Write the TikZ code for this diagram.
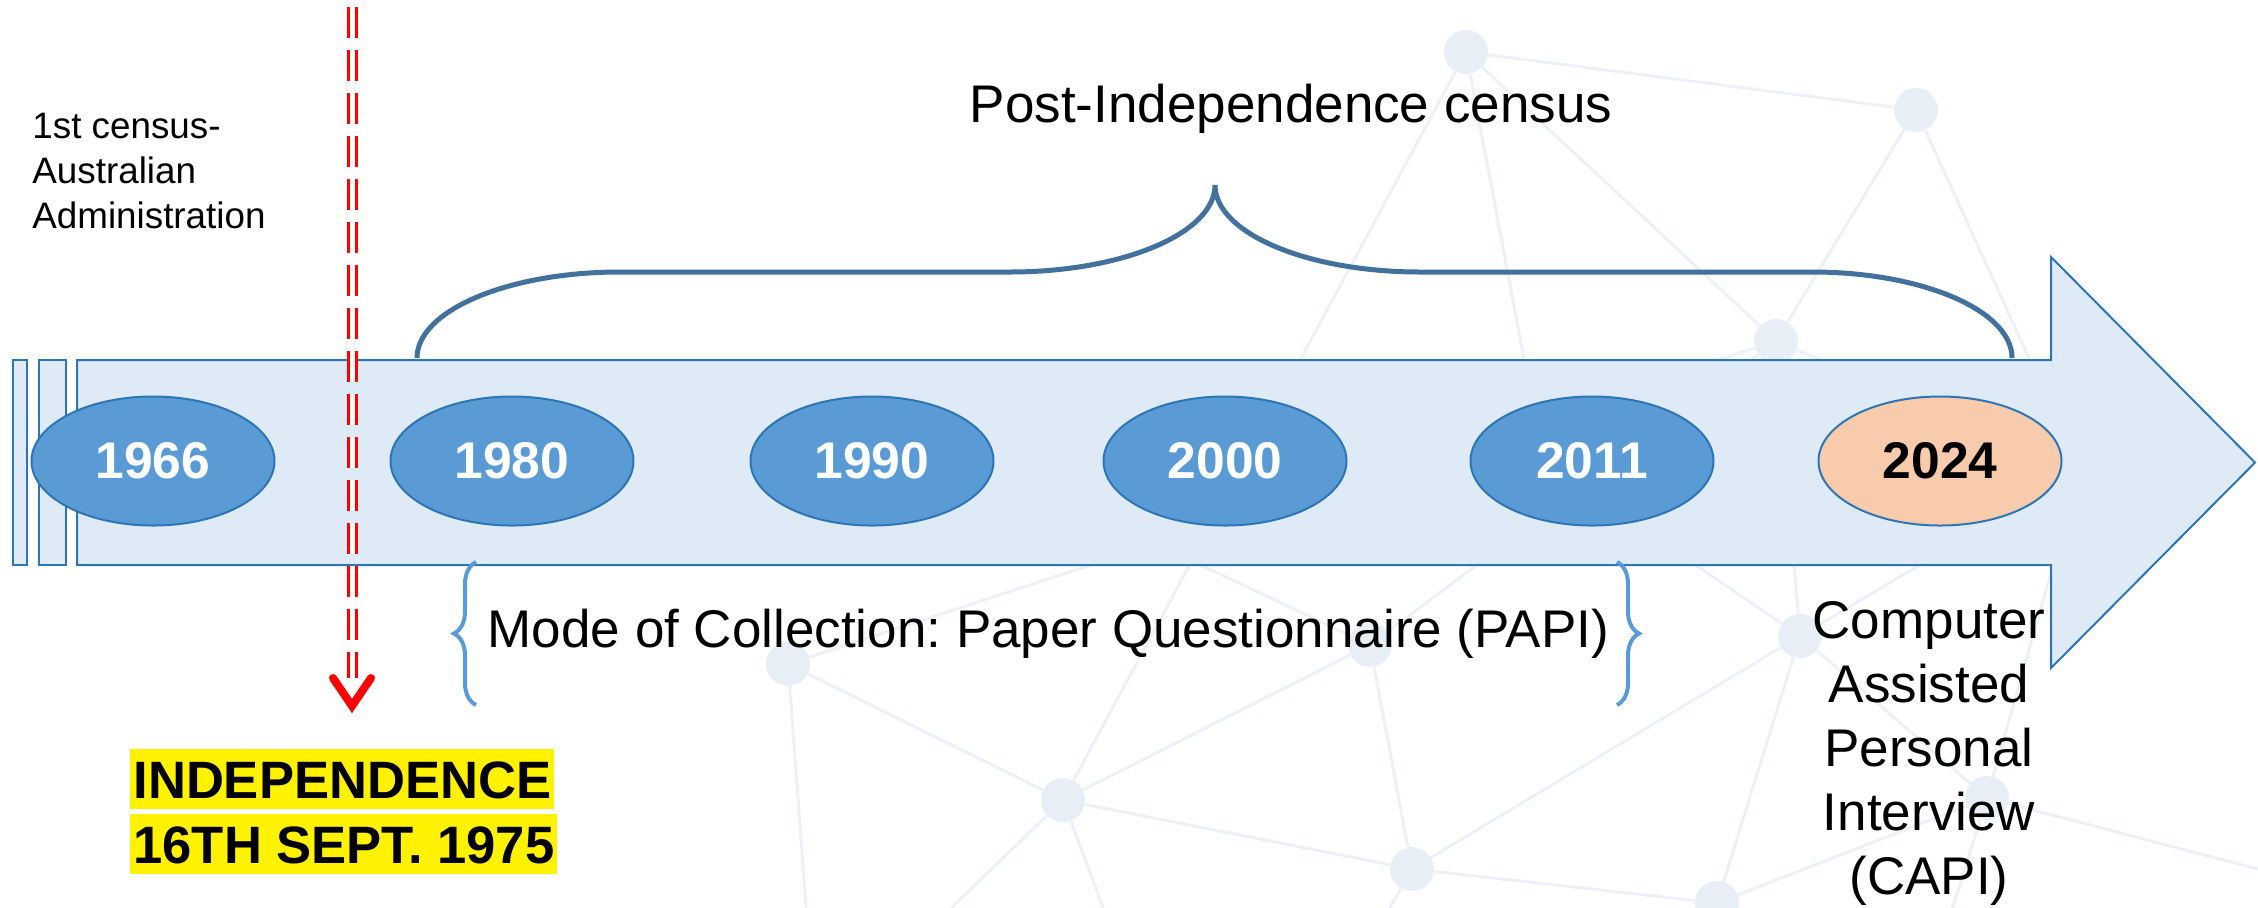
\documentclass[tikz,border=0pt]{standalone}
\usepackage{fontspec}
\setmainfont{Liberation Sans}
\usepackage{tikz}
\usetikzlibrary{shapes.geometric}
\usetikzlibrary{decorations.pathreplacing}
\definecolor{arrowfill}{HTML}{DEEBF7}
\definecolor{arrowline}{HTML}{2E75B6}
\definecolor{yearfill}{HTML}{5B9BD5}
\definecolor{nowfill}{HTML}{F8CBAD}
\definecolor{bracedark}{HTML}{41719C}
\definecolor{bracelight}{HTML}{5B9BD5}
\definecolor{netdot}{HTML}{E7EEF5}
\definecolor{netline}{HTML}{ECF1F7}
\frenchspacing

\begin{document}
\begin{tikzpicture}
[every node/.style={inner sep=0pt},
 yearnode/.style={ellipse, minimum width=121.5pt, minimum height=64.5pt, fill=yearfill, line width=1pt, draw=arrowline, font=\fontsize{25.8pt}{31pt}\selectfont\bfseries},
 netnode/.style={circle, minimum size=22pt, fill=netdot},
 netedge/.style={line width=1.5pt, color=netline},
 bodytext/.style={font=\fontsize{26.5pt}{32pt}\selectfont},
 flagtext/.style={fill=yellow, inner xsep=1.5pt, text height=24.5pt, text depth=5.5pt, anchor=base west, font=\fontsize{26.3pt}{32pt}\selectfont\bfseries},
 paperbrace/.style={decorate, decoration={brace, amplitude=11pt}, line width=2pt, color=bracelight}]
\useasboundingbox (0pt, 0pt) rectangle (1129pt, -453.5pt);
% background network
\node (net1) [netnode] at (733pt, -26pt) {};
\node (net2) [netnode] at (958pt, -55pt) {};
\node (net3) [netnode] at (888pt, -170.5pt) {};
\node (net4) [netnode] at (900pt, -318pt) {};
\node (net5) [netnode] at (685pt, -322.5pt) {};
\node (net6) [netnode] at (394pt, -332pt) {};
\node (net7) [netnode] at (531.5pt, -400pt) {};
\node (net8) [netnode] at (706pt, -434.5pt) {};
\node (net9) [netnode] at (858.5pt, -451.5pt) {};
\node (net10) [netnode] at (993.5pt, -399pt) {};
\coordinate (netx1) at (500pt, -235pt);
\coordinate (netx2) at (1040pt, -235pt);
\coordinate (netx3) at (772.5pt, -235pt);
\coordinate (netx4) at (800pt, -250pt);
\coordinate (netout1) at (405pt, -480pt);
\coordinate (netout2) at (445pt, -483.5pt);
\coordinate (netout3) at (565pt, -490pt);
\coordinate (netout4) at (680pt, -480pt);
\coordinate (netout5) at (965pt, -490pt);
\coordinate (netout6) at (850pt, -480pt);
\coordinate (netout7) at (1150pt, -440pt);
\draw [netedge] (net1) -- (net2);
\draw [netedge] (net1) -- (net3);
\draw [netedge] (net1) -- (net7);
\draw [netedge] (net1) -- (netx3);
\draw [netedge] (net2) -- (net3);
\draw [netedge] (net2) -- (netx2);
\draw [netedge] (net3) -- (net4);
\draw [netedge] (net3) -- (net6);
\draw [netedge] (net3) -- (netx2);
\draw [netedge] (net4) -- (net8);
\draw [netedge] (net4) -- (net9);
\draw [netedge] (net4) -- (net10);
\draw [netedge] (net4) -- (netx4);
\draw [netedge] (net4) -- (netx2);
\draw [netedge] (net5) -- (net3);
\draw [netedge] (net5) -- (net8);
\draw [netedge] (net5) -- (netx1);
\draw [netedge] (net5) -- (net7);
\draw [netedge] (net6) -- (net7);
\draw [netedge] (net6) -- (netout1);
\draw [netedge] (net7) -- (net8);
\draw [netedge] (net7) -- (netout2);
\draw [netedge] (net7) -- (netout3);
\draw [netedge] (net8) -- (net9);
\draw [netedge] (net8) -- (netout4);
\draw [netedge] (net9) -- (netout6);
\draw [netedge] (net9) -- (net10);
\draw [netedge] (net10) -- (netout5);
\draw [netedge] (net10) -- (netx2);
\draw [netedge] (net10) -- (netout7);
% timeline arrow
\draw [line width=1pt, draw=arrowline, fill=arrowfill] (38.5pt, -180pt) -- (1025.5pt, -180pt) -- (1025.5pt, -128.5pt) -- (1127.5pt, -231.25pt) -- (1025.5pt, -334pt) -- (1025.5pt, -282.5pt) -- (38.5pt, -282.5pt) -- cycle;
\draw [line width=1pt, draw=arrowline, fill=arrowfill] (6.5pt, -180pt) rectangle (13.5pt, -282.5pt);
\draw [line width=1pt, draw=arrowline, fill=arrowfill] (19.5pt, -180pt) rectangle (33pt, -282.5pt);
% census years
\node (y1966) [yearnode] at (76.5pt, -230.5pt) {\textcolor{white}{1966}};
\node (y1980) [yearnode] at (256pt, -230.5pt) {\textcolor{white}{1980}};
\node (y1990) [yearnode] at (436pt, -230.5pt) {\textcolor{white}{1990}};
\node (y2000) [yearnode] at (612.5pt, -230.5pt) {\textcolor{white}{2000}};
\node (y2011) [yearnode] at (796pt, -230.5pt) {\textcolor{white}{2011}};
\node (y2024) [yearnode, fill=nowfill] at (970pt, -230.5pt) {\textcolor{black}{2024}};
% braces
\draw [line width=2.5pt, color=bracedark] (208.5pt, -179pt) .. controls (208.5pt, -155.3pt) and (254pt, -136pt) .. (310pt, -136pt) -- (505pt, -136pt) .. controls (561.6pt, -136pt) and (607.5pt, -116.5pt) .. (607.5pt, -92.5pt) .. controls (607.5pt, -116.5pt) and (653.4pt, -136pt) .. (710pt, -136pt) -- (906pt, -136pt) .. controls (961.2pt, -136pt) and (1006pt, -155.3pt) .. (1006pt, -179pt);
\draw [paperbrace] (238pt, -352.5pt) -- (238pt, -281pt);
\draw [paperbrace] (808.5pt, -281pt) -- (808.5pt, -352.5pt);
% labels
\node (postind) [bodytext, anchor=base] at (645.5pt, -61pt) {\textcolor{black}{Post-Independence census}};
\node (firstcensus) [anchor=base west, align=left, font=\fontsize{18.4pt}{22.5pt}\selectfont] at (16pt, -114pt) {1st census-\\Australian\\Administration};
\node (papi) [bodytext, anchor=base] at (524.25pt, -323.5pt) {Mode of Collection: Paper Questionnaire (PAPI)};
\node (capi) [bodytext, anchor=base, align=center] at (964.5pt, -447pt) {Computer\\Assisted\\Personal\\Interview\\(CAPI)};
\node (indep) [flagtext] at (65pt, -399pt) {INDEPENDENCE};
\node (indepdate) [flagtext] at (65pt, -431.5pt) {16TH SEPT. 1975};
% independence marker
\coordinate (indtop) at (176pt, -3.5pt);
\coordinate (indend) at (176pt, -339pt);
\coordinate (indtip) at (176pt, -353pt);
\draw [line width=1.5pt, color=red, double=white, double distance=2.5pt, dash pattern=on 15.5pt off 6pt] (indtop) -- (indend);
\draw [line width=4pt, color=red, line cap=round, line join=miter] ([shift={(-9.5pt, 14pt)}]indtip) -- (indtip) -- ([shift={(9.5pt, 14pt)}]indtip);
\end{tikzpicture}
\end{document}
